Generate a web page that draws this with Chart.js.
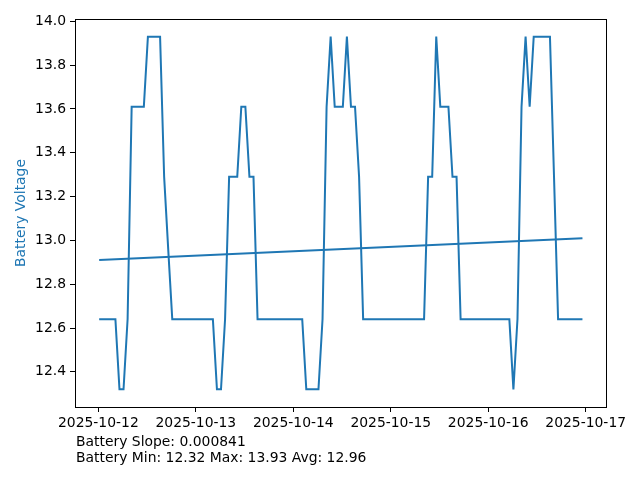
<!DOCTYPE html>
<html>
<head>
<meta charset="utf-8">
<style>
  html, body { margin: 0; padding: 0; background: #fff; }
  #wrap { width: 640px; height: 480px; }
</style>
<script src="https://cdn.jsdelivr.net/npm/chart.js@4.4.1/dist/chart.umd.min.js"></script>
</head>
<body>
<div id="wrap"><canvas id="chartBattery" width="640" height="480"></canvas></div>
<script>
// Relevés horaires de la batterie, à partir du 2025-10-12 ~00:12
var startHour = 0.2;
var batteryVoltage = [
  12.64, 12.64, 12.64, 12.64, 12.64, 12.32, 12.32, 12.64, 13.61, 13.61,
  13.61, 13.61, 13.93, 13.93, 13.93, 13.93, 13.29, 12.96, 12.64, 12.64,
  12.64, 12.64, 12.64, 12.64, 12.64, 12.64, 12.64, 12.64, 12.64, 12.32,
  12.32, 12.64, 13.29, 13.29, 13.29, 13.61, 13.61, 13.29, 13.29, 12.64,
  12.64, 12.64, 12.64, 12.64, 12.64, 12.64, 12.64, 12.64, 12.64, 12.64,
  12.64, 12.32, 12.32, 12.32, 12.32, 12.64, 13.61, 13.93, 13.61, 13.61,
  13.61, 13.93, 13.61, 13.61, 13.29, 12.64, 12.64, 12.64, 12.64, 12.64,
  12.64, 12.64, 12.64, 12.64, 12.64, 12.64, 12.64, 12.64, 12.64, 12.64,
  12.64, 13.29, 13.29, 13.93, 13.61, 13.61, 13.61, 13.29, 13.29, 12.64,
  12.64, 12.64, 12.64, 12.64, 12.64, 12.64, 12.64, 12.64, 12.64, 12.64,
  12.64, 12.64, 12.32, 12.64, 13.61, 13.93, 13.61, 13.93, 13.93, 13.93,
  13.93, 13.93, 13.29, 12.64, 12.64, 12.64, 12.64, 12.64, 12.64, 12.64
];
// Droite de tendance (début / fin)
var trendValues = [12.91, 13.01];

var xTickDays   = [0, 1, 2, 3, 4, 5];
var xTickLabels = ['2025-10-12', '2025-10-13', '2025-10-14', '2025-10-15', '2025-10-16', '2025-10-17'];
var yTicks      = [12.4, 12.6, 12.8, 13.0, 13.2, 13.4, 13.6, 13.8, 14.0];
var statsLines  = ['Battery Slope: 0.000841', 'Battery Min: 12.32 Max: 13.93 Avg: 12.96'];

(function () {
    'use strict';

    var bleu = '#1f77b4';
    var police = 'DejaVu Sans';
    var taille = 13.9;

    var points = batteryVoltage.map(function (v, i) {
        return { x: (startHour + i) / 24, y: v };
    });
    var premier = points[0].x;
    var dernier = points[points.length - 1].x;
    var tendance = [
        { x: premier, y: trendValues[0] },
        { x: dernier, y: trendValues[1] }
    ];

    // Cadre complet (haut + droite) et texte sous l'axe
    var cadre = {
        id: 'cadre',
        afterDraw: function (chart) {
            var a = chart.chartArea, c = chart.ctx;
            c.save();
            c.strokeStyle = '#000';
            c.lineWidth = 1;
            c.strokeRect(Math.round(a.left) + 0.5, Math.round(a.top) + 0.5,
                Math.round(a.right - a.left), Math.round(a.bottom - a.top));
            c.fillStyle = '#000';
            c.font = taille + 'px "' + police + '"';
            c.textBaseline = 'middle';
            c.textAlign = 'left';
            statsLines.forEach(function (t, i) {
                c.fillText(t, 76, 442 + i * 16);
            });
            c.restore();
        }
    };

    Chart.defaults.font.family = police;
    Chart.defaults.font.size = taille;
    Chart.defaults.color = '#000';

    new Chart(document.getElementById('chartBattery'), {
        type: 'line',
        data: {
            datasets: [{
                data: points,
                borderColor: bleu,
                borderWidth: 2,
                pointRadius: 0,
                tension: 0,
                fill: false
            }, {
                data: tendance,
                borderColor: bleu,
                borderWidth: 2,
                pointRadius: 0,
                tension: 0,
                fill: false
            }]
        },
        options: {
            responsive: false,
            animation: false,
            events: [],
            layout: { padding: { top: 19, right: 34, left: 0, bottom: 0 } },
            plugins: { legend: { display: false }, tooltip: { enabled: false } },
            scales: {
                x: {
                    type: 'linear',
                    min: -0.2396,
                    max: 5.2083,
                    afterFit: function (s) { s.height = 73; },
                    afterBuildTicks: function (s) {
                        s.ticks = xTickDays.map(function (v) { return { value: v }; });
                    },
                    border: { display: true, color: '#000', width: 1 },
                    grid: { drawOnChartArea: false, drawTicks: true, tickLength: 5, tickColor: '#000', tickWidth: 1 },
                    ticks: {
                        autoSkip: false,
                        maxRotation: 0,
                        padding: 3,
                        color: '#000',
                        callback: function (v, i) { return xTickLabels[i]; }
                    }
                },
                y: {
                    type: 'linear',
                    min: 12.2395,
                    max: 14.0105,
                    afterFit: function (s) { s.width = 75; },
                    afterBuildTicks: function (s) {
                        s.ticks = yTicks.map(function (v) { return { value: v }; });
                    },
                    border: { display: true, color: '#000', width: 1 },
                    grid: { drawOnChartArea: false, drawTicks: true, tickLength: 5, tickColor: '#000', tickWidth: 1 },
                    ticks: {
                        autoSkip: false,
                        padding: 4,
                        color: '#000',
                        callback: function (v) { return Number(v).toFixed(1); }
                    },
                    title: {
                        display: true,
                        text: 'Battery Voltage',
                        color: bleu,
                        padding: { top: 13, bottom: 0 },
                        font: { family: police, size: taille }
                    }
                }
            }
        },
        plugins: [cadre]
    });
})();
</script>
</body>
</html>
